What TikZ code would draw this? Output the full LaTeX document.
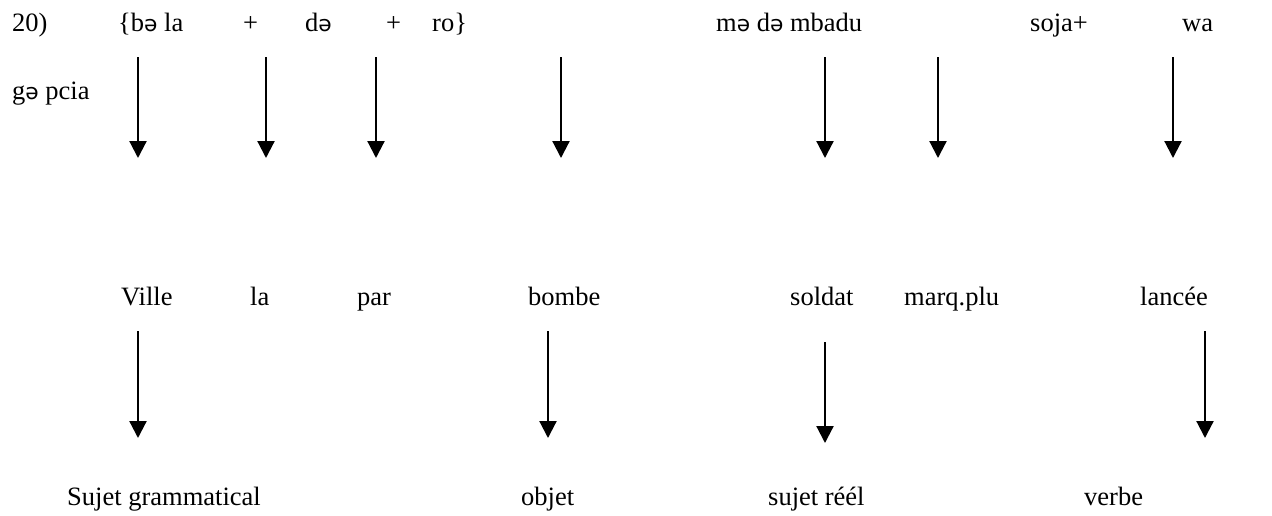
\documentclass[tikz,border=0pt]{standalone}
\usepackage{fontspec}
\setmainfont{Liberation Serif}
\newfontfamily\schwafont{DejaVu Sans}[Scale=0.82]
\newcommand{\shw}{{\schwafont ə}}
\usetikzlibrary{arrows.meta}
\tikzset{
  word/.style={anchor=base west, inner sep=0pt, font=\fontsize{26.5}{31}\selectfont},
  downarrow/.style={line width=2.2pt, -{Triangle[width=17pt,length=17pt]}}
}
\begin{document}
\begin{tikzpicture}[x=1pt,y=-1pt]
\useasboundingbox (0,0) rectangle (1272,515);
% row 1
\node[word] (n20) at (12,31) {20)};
\node[word] (bela) at (118,31) {\{b\shw{} la};
\node[word] (p1) at (243,31) {+};
\node[word] (de) at (305,31) {d\shw};
\node[word] (p2) at (386,31) {+};
\node[word] (ro) at (432,31) {ro\}};
\node[word] (mede) at (716,31) {m\shw{} d\shw{} mbadu};
\node[word] (soja) at (1030,31) {soja+};
\node[word] (wa) at (1182,31) {wa};
% row 2
\node[word] (gepcia) at (12,99) {g\shw{} pcia};
% row 3
\node[word] (ville) at (121,305) {Ville};
\node[word] (la) at (250,305) {la};
\node[word] (par) at (357,305) {par};
\node[word] (bombe) at (528,305) {bombe};
\node[word] (soldat) at (790,305) {soldat};
\node[word] (marq) at (904,305) {marq.plu};
\node[word] (lancee) at (1140,305) {lancée};
% row 4
\node[word] (sujg) at (67,505) {Sujet grammatical};
\node[word] (objet) at (521,505) {objet};
\node[word] (sujr) at (768,505) {sujet réél};
\node[word] (verbe) at (1084,505) {verbe};
% arrows row 1
\foreach \n/\x in {a/138,b/266,c/376,d/561,e/825,f/938,g/1173}{
  \coordinate (t\n) at (\x,57);
  \coordinate (h\n) at (\x,158);
  \draw[downarrow] (t\n) -- (h\n);
}
% arrows row 2
\foreach \n/\x/\ya/\yb in {k/138/331/438,l/548/331/438,m/825/342/443,o/1205/331/438}{
  \coordinate (t\n) at (\x,\ya);
  \coordinate (h\n) at (\x,\yb);
  \draw[downarrow] (t\n) -- (h\n);
}
\end{tikzpicture}
\end{document}
